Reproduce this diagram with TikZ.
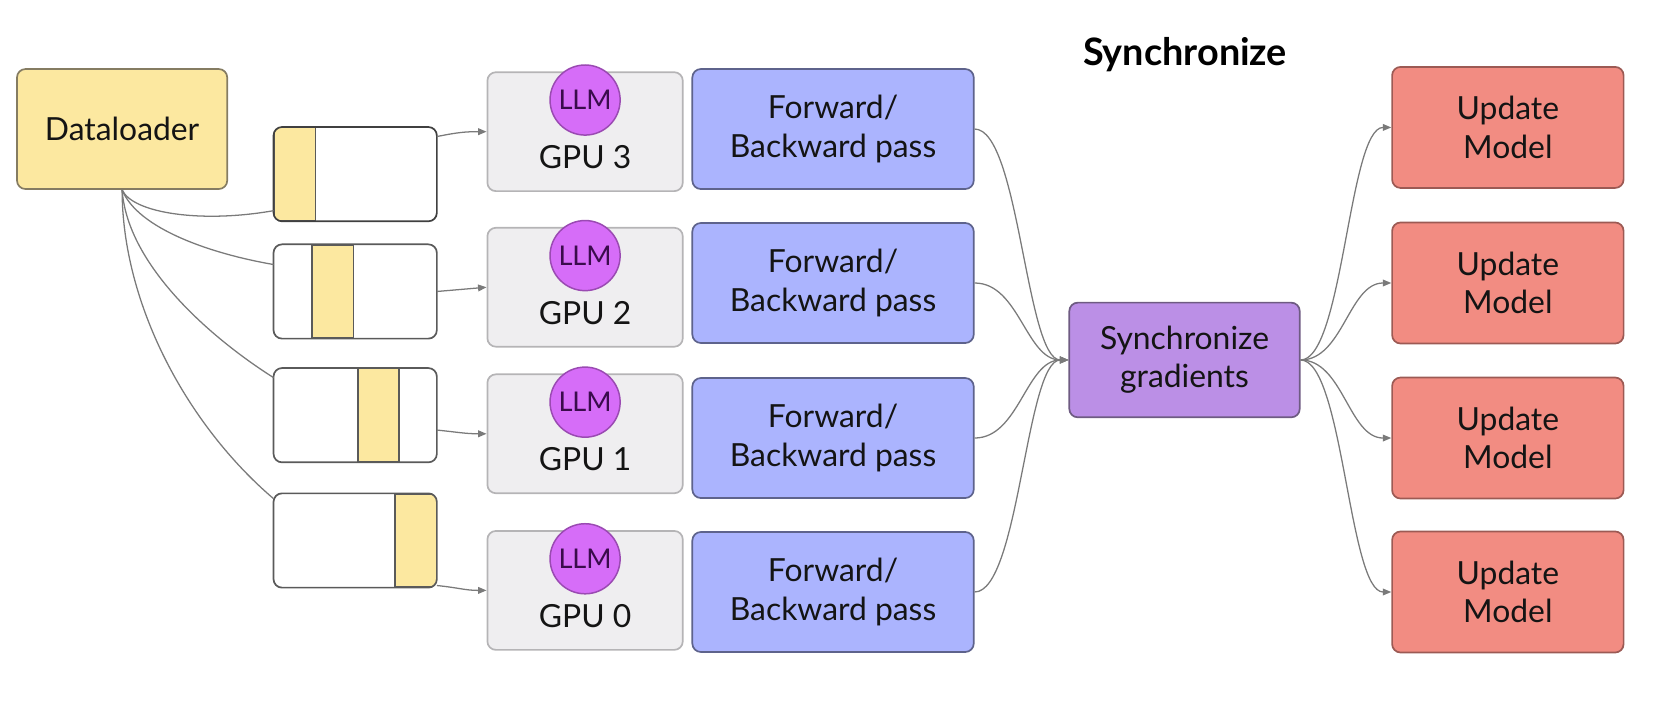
\documentclass[tikz,border=0pt]{standalone}
\usepackage{fontspec}
\setmainfont{Lato}
\usetikzlibrary{arrows.meta,calc}
\definecolor{dlfill}{HTML}{FCE8A0}
\definecolor{dlborder}{HTML}{857C62}
\definecolor{batchborder}{HTML}{5A5A5A}
\definecolor{gpufill}{HTML}{EFEEF0}
\definecolor{gpuborder}{HTML}{B5B4B6}
\definecolor{llmfill}{HTML}{D66DF8}
\definecolor{llmborder}{HTML}{9A4AB2}
\definecolor{llmtext}{HTML}{3A0C4C}
\definecolor{fbfill}{HTML}{ABB4FE}
\definecolor{fbborder}{HTML}{5E638C}
\definecolor{syfill}{HTML}{BB8FE6}
\definecolor{syborder}{HTML}{6E5B82}
\definecolor{upfill}{HTML}{F28C82}
\definecolor{upborder}{HTML}{9C5A54}
\definecolor{wire}{HTML}{7A7A7A}
\definecolor{txt}{HTML}{141414}
\begin{document}
\begin{tikzpicture}[x=0.5pt,y=-0.5pt,
  base/.style={rectangle, rounded corners=4pt, line width=0.8pt, align=center, inner sep=0pt,
    text=txt, font=\fontsize{15}{18}\selectfont},
  dlbox/.style={base, draw=dlborder, fill=dlfill, minimum width=99pt, minimum height=56.5pt},
  batch/.style={rectangle, fill=white, inner sep=0pt, minimum width=76.5pt, minimum height=44pt},
  strip/.style={rectangle, draw=batchborder, line width=0.8pt, fill=dlfill, inner sep=0pt,
    minimum width=19.5pt, minimum height=44pt},
  gpubox/.style={base, draw=gpuborder, fill=gpufill, minimum width=92pt, minimum height=56pt},
  llm/.style={circle, draw=llmborder, line width=0.7pt, fill=llmfill, minimum size=33pt, inner sep=0pt,
    text=llmtext, font=\fontsize{12.8}{14}\selectfont},
  gputext/.style={inner sep=0pt, text=txt, font=\fontsize{15}{18}\selectfont},
  fbbox/.style={base, draw=fbborder, fill=fbfill, minimum width=132.5pt, minimum height=56.5pt},
  sybox/.style={base, draw=syborder, fill=syfill, minimum width=108.5pt, minimum height=54pt},
  upbox/.style={base, draw=upborder, fill=upfill, minimum width=109pt, minimum height=57pt},
  wireline/.style={draw=wire, line width=0.6pt},
  arrowline/.style={wireline, -{Triangle[length=4pt,width=3.2pt]}},
]
\useasboundingbox (0,0) rectangle (1568,660);

% title
\node[inner sep=0pt, text=black, font=\fontsize{17.8}{21}\bfseries\selectfont] (title) at (1116,51) {Synchronize};

% dataloader
\node[dlbox] (dl) at (115,121.5) {Dataloader};

% batches
\node[batch] (b3) at (334.5,164) {};
\node[batch] (b2) at (334.5,274.5) {};
\node[batch] (b1) at (334.5,391) {};
\node[batch] (b0) at (334.5,509) {};
\begin{scope}
  \clip[rounded corners=4pt] (b3.north west) rectangle (b3.south east);
  \node[strip] (y3) at (277.5,164) {};
\end{scope}
\begin{scope}
  \clip[rounded corners=4pt] (b2.north west) rectangle (b2.south east);
  \node[strip] (y2) at (313.5,274.5) {};
\end{scope}
\begin{scope}
  \clip[rounded corners=4pt] (b1.north west) rectangle (b1.south east);
  \node[strip] (y1) at (356.5,391) {};
\end{scope}
\begin{scope}
  \clip[rounded corners=4pt] (b0.north west) rectangle (b0.south east);
  \node[strip] (y0) at (391.5,509) {};
\end{scope}
\draw[draw=black!75, line width=0.8pt, rounded corners=4pt] (b3.north west) rectangle (b3.south east);
\draw[draw=batchborder, line width=0.8pt, rounded corners=4pt] (b2.north west) rectangle (b2.south east);
\draw[draw=batchborder, line width=0.8pt, rounded corners=4pt] (b1.north west) rectangle (b1.south east);
\draw[draw=batchborder, line width=0.8pt, rounded corners=4pt] (b0.north west) rectangle (b0.south east);

% GPUs
\foreach \i/\y in {3/124, 2/270.5, 1/408.5, 0/556} {
  \node[gpubox] (g\i) at (551,\y) {};
  \node[llm] (l\i) at ($(g\i.north)+(0,27)$) {LLM};
  \node[gputext] (t\i) at ($(g\i.center)+(0,24)$) {GPU \i};
}

% forward/backward
\node[fbbox] (f3) at (784.5,121.5) {Forward/\\Backward pass};
\node[fbbox] (f2) at (784.5,266.5) {Forward/\\Backward pass};
\node[fbbox] (f1) at (784.5,412.5) {Forward/\\Backward pass};
\node[fbbox] (f0) at (784.5,557.5) {Forward/\\Backward pass};

% synchronize
\node[sybox] (sy) at (1115.5,339) {Synchronize\\gradients};

% update
\node[upbox] (u3) at (1420,120) {Update\\Model};
\node[upbox] (u2) at (1420,266.5) {Update\\Model};
\node[upbox] (u1) at (1420,412.5) {Update\\Model};
\node[upbox] (u0) at (1420,557.5) {Update\\Model};

% dataloader -> batches
\coordinate (e3) at ($(b3.south west)+(0,-10)$);
\coordinate (e2) at ($(b2.north west)+(0,19)$);
\coordinate (e1) at ($(b1.north west)+(0,9)$);
\coordinate (e0) at ($(b0.north west)+(0,5)$);
\draw[wireline] (dl.south) .. controls ($(dl.south)+(10,22)$) and ($(e3)+(-68,12)$) .. (e3);
\draw[wireline] (dl.south) .. controls ($(dl.south)+(15,37)$) and ($(e2)+(-58,-10)$) .. (e2);
\draw[wireline] (dl.south) .. controls ($(dl.south)+(5,72)$) and ($(e1)+(-57,-36)$) .. (e1);
\draw[wireline] (dl.south) .. controls ($(dl.south)+(0,107)$) and ($(e0)+(-82,-70)$) .. (e0);

% batches -> GPUs
\coordinate (o3) at ($(b3.north east)+(0,9)$);
\coordinate (o1) at ($(b1.east)+(0,14)$);
\coordinate (o0) at ($(b0.south east)+(0,-2)$);
\draw[arrowline] (o3) .. controls ($(o3)+(20,-4)$) and ($(g3.west)+(-20,0)$) .. (g3.west);
\draw[arrowline] (b2.east) -- (g2.west);
\draw[arrowline] (o1) .. controls ($(o1)+(20,2)$) and ($(g1.west)+(-20,0)$) .. (g1.west);
\draw[arrowline] (o0) .. controls ($(o0)+(20,2)$) and ($(g0.west)+(-20,0)$) .. (g0.west);

% forward/backward -> synchronize
\foreach \i in {3,2,1,0} {
  \draw[arrowline] (f\i.east) .. controls ($(f\i.east)+(42,0)$) and ($(sy.west)+(-40,0)$) .. (sy.west);
}
% synchronize -> update
\foreach \i in {3,2,1,0} {
  \draw[arrowline] (sy.east) .. controls ($(sy.east)+(40,0)$) and ($(u\i.west)+(-40,0)$) .. (u\i.west);
}
\end{tikzpicture}
\end{document}
